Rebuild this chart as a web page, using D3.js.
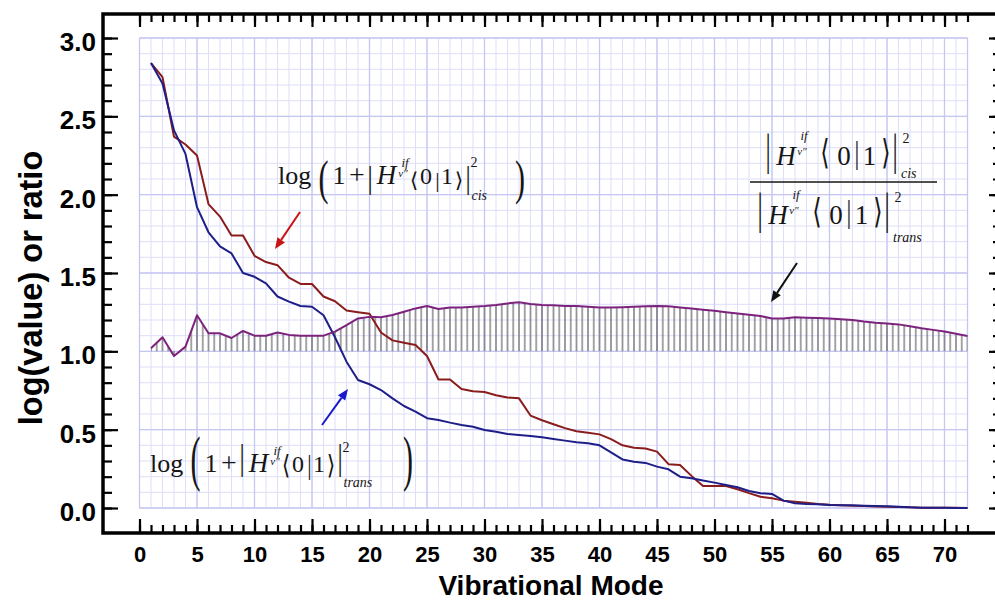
<!DOCTYPE html>
<html>
<head>
<meta charset="utf-8">
<script src="https://cdn.jsdelivr.net/npm/d3@7"></script>
<style>
  body { margin: 0; background: #fff; }
</style>
</head>
<body>
<div id="chart"></div>
<script>
// vibrational modes 1..72
const modes = d3.range(1, 73);

// log(1 + |H<0|1>|^2) for cis
const cisLog = [
  2.84, 2.75, 2.37, 2.32, 2.25, 1.94, 1.86, 1.74, 1.74, 1.61,
  1.57, 1.55, 1.47, 1.43, 1.43, 1.35, 1.32, 1.26, 1.25, 1.24,
  1.12, 1.07, 1.055, 1.04, 0.97, 0.82, 0.82, 0.76, 0.745, 0.74,
  0.72, 0.705, 0.70, 0.59, 0.56, 0.535, 0.51, 0.49, 0.48, 0.47,
  0.44, 0.40, 0.385, 0.38, 0.36, 0.28, 0.275, 0.205, 0.14, 0.14,
  0.14, 0.12, 0.095, 0.072, 0.062, 0.047, 0.04, 0.034, 0.026, 0.02,
  0.018, 0.015, 0.013, 0.01, 0.008, 0.006, 0.004, 0.002, 0.002, 0.001,
  0.001, 0.0
];

// log(1 + |H<0|1>|^2) for trans
const transLog = [
  2.84, 2.71, 2.41, 2.26, 1.92, 1.76, 1.67, 1.625, 1.50, 1.476,
  1.434, 1.35, 1.317, 1.289, 1.285, 1.23, 1.09, 0.934, 0.817, 0.79,
  0.753, 0.70, 0.651, 0.615, 0.573, 0.562, 0.545, 0.53, 0.519, 0.498,
  0.487, 0.472, 0.466, 0.46, 0.451, 0.441, 0.43, 0.419, 0.413, 0.40,
  0.355, 0.31, 0.295, 0.288, 0.264, 0.247, 0.20, 0.19, 0.175, 0.162,
  0.147, 0.132, 0.109, 0.094, 0.09, 0.047, 0.03, 0.026, 0.024, 0.019,
  0.017, 0.017, 0.015, 0.013, 0.011, 0.008, 0.004, 0.002, 0.002, 0.001,
  0.0, 0.0
];

// ratio cis / trans
const ratio = [
  1.02, 1.09, 0.97, 1.03, 1.23, 1.115, 1.115, 1.085, 1.13, 1.10,
  1.10, 1.12, 1.105, 1.10, 1.10, 1.10, 1.126, 1.168, 1.21, 1.22,
  1.217, 1.232, 1.253, 1.274, 1.289, 1.27, 1.28, 1.28, 1.285, 1.289,
  1.296, 1.306, 1.313, 1.302, 1.296, 1.294, 1.289, 1.289, 1.285, 1.28,
  1.28, 1.282, 1.285, 1.287, 1.289, 1.287, 1.28, 1.274, 1.266, 1.259,
  1.25, 1.242, 1.233, 1.225, 1.21, 1.21, 1.217, 1.215, 1.212, 1.21,
  1.205, 1.20, 1.19, 1.183, 1.178, 1.172, 1.16, 1.147, 1.137, 1.126,
  1.112, 1.098
];

const xTickValues = d3.range(0, 75, 5);
const xMinorValues = d3.range(0, 73, 1);
const yTickValues = [0, 0.5, 1, 1.5, 2, 2.5, 3];
const yMinorValues = d3.range(0, 31).map(d => d / 10);

const width = 995, height = 600;
const frame = {left: 103, top: 14, right: 997, bottom: 533};

const x = d3.scaleLinear().domain([0, 72]).range([139.5, 967.5]);
const y = d3.scaleLinear().domain([0, 3]).range([508, 38]);

const sans = "'Liberation Sans', Arial, Helvetica, sans-serif";
const serif = "'Liberation Serif', 'Times New Roman', 'DejaVu Serif', serif";
const ink = "#161616";

const svg = d3.select("#chart").append("svg")
  .attr("width", width)
  .attr("height", height)
  .attr("viewBox", [0, 0, width, height]);

const rows = modes.map((m, i) => ({m, cis: cisLog[i], trans: transLog[i], r: ratio[i]}));

// hatch pattern for the ratio area
const step = x(0.5) - x(0);
svg.append("defs").append("pattern")
    .attr("id", "hatch")
    .attr("patternUnits", "userSpaceOnUse")
    .attr("x", x(0) - step / 2)
    .attr("y", 0)
    .attr("width", step)
    .attr("height", 10)
  .append("line")
    .attr("x1", step / 2).attr("x2", step / 2)
    .attr("y1", 0).attr("y2", 10)
    .attr("stroke", "#4a4a4a")
    .attr("stroke-width", 1);

// grid
const grid = svg.append("g");
grid.selectAll(".vminor").data(xMinorValues).join("line")
    .attr("x1", d => x(d)).attr("x2", d => x(d))
    .attr("y1", y(0)).attr("y2", y(3))
    .attr("stroke", "#dedef9").attr("stroke-width", 1);
grid.selectAll(".hminor").data(yMinorValues).join("line")
    .attr("x1", x(0)).attr("x2", x(72))
    .attr("y1", d => y(d)).attr("y2", d => y(d))
    .attr("stroke", "#dedef9").attr("stroke-width", 1);
grid.selectAll(".vmajor").data(xTickValues.concat([72])).join("line")
    .attr("x1", d => x(d)).attr("x2", d => x(d))
    .attr("y1", y(0)).attr("y2", y(3))
    .attr("stroke", "#c6c6f3").attr("stroke-width", 1.3);
grid.selectAll(".hmajor").data(yTickValues).join("line")
    .attr("x1", x(0)).attr("x2", x(72))
    .attr("y1", d => y(d)).attr("y2", d => y(d))
    .attr("stroke", "#c6c6f3").attr("stroke-width", 1.3);

// hatched area between ratio and 1.0
svg.append("path")
    .datum(rows)
    .attr("fill", "url(#hatch)")
    .attr("d", d3.area().x(d => x(d.m)).y0(y(1)).y1(d => y(d.r)));

const line = key => d3.line().x(d => x(d.m)).y(d => y(d[key]));

svg.append("path").datum(rows)
    .attr("fill", "none").attr("stroke", "#8a1c1c").attr("stroke-width", 2)
    .attr("stroke-linejoin", "round").attr("d", line("cis"));
svg.append("path").datum(rows)
    .attr("fill", "none").attr("stroke", "#1e1e88").attr("stroke-width", 2)
    .attr("stroke-linejoin", "round").attr("d", line("trans"));
svg.append("path").datum(rows)
    .attr("fill", "none").attr("stroke", "#7d237d").attr("stroke-width", 2)
    .attr("stroke-linejoin", "round").attr("d", line("r"));

// frame
svg.append("rect")
    .attr("x", frame.left).attr("y", frame.top)
    .attr("width", frame.right - frame.left).attr("height", frame.bottom - frame.top)
    .attr("fill", "none").attr("stroke", "#000").attr("stroke-width", 3.5);

function styleAxis(g) {
  g.select(".domain").remove();
  g.selectAll(".tick line").attr("stroke", "#000").attr("stroke-width", 2.2);
}

// bottom axis (ticks point up)
svg.append("g").attr("transform", `translate(0,${frame.bottom})`)
    .call(d3.axisBottom(x).tickValues(xMinorValues).tickSizeInner(-8).tickSizeOuter(0).tickFormat(""))
    .call(styleAxis);
svg.append("g").attr("transform", `translate(0,${frame.bottom})`)
    .call(d3.axisBottom(x).tickValues(xTickValues).tickSizeInner(-14).tickSizeOuter(0).tickPadding(13).tickFormat(d3.format("d")))
    .call(styleAxis)
    .call(g => g.selectAll("text").attr("font-family", sans).attr("font-weight", "bold")
      .attr("font-size", 22).attr("fill", "#000"));

// top axis (ticks point down)
svg.append("g").attr("transform", `translate(0,${frame.top})`)
    .call(d3.axisTop(x).tickValues(xMinorValues).tickSizeInner(-8).tickSizeOuter(0).tickFormat(""))
    .call(styleAxis);
svg.append("g").attr("transform", `translate(0,${frame.top})`)
    .call(d3.axisTop(x).tickValues(xTickValues).tickSizeInner(-13).tickSizeOuter(0).tickFormat(""))
    .call(styleAxis);

// left axis (ticks point right)
svg.append("g").attr("transform", `translate(${frame.left},0)`)
    .call(d3.axisLeft(y).tickValues(yMinorValues).tickSizeInner(-9).tickSizeOuter(0).tickFormat(""))
    .call(styleAxis);
svg.append("g").attr("transform", `translate(${frame.left},0)`)
    .call(d3.axisLeft(y).tickValues(yTickValues).tickSizeInner(-15).tickSizeOuter(0).tickPadding(7).tickFormat(d3.format(".1f")))
    .call(styleAxis)
    .call(g => g.selectAll("text").attr("font-family", sans).attr("font-weight", "bold")
      .attr("font-size", 26).attr("fill", "#000").attr("dy", "0.48em"));

// right axis (ticks point left)
svg.append("g").attr("transform", `translate(${frame.right},0)`)
    .call(d3.axisRight(y).tickValues(yMinorValues).tickSizeInner(-4).tickSizeOuter(0).tickFormat(""))
    .call(styleAxis);
svg.append("g").attr("transform", `translate(${frame.right},0)`)
    .call(d3.axisRight(y).tickValues(yTickValues).tickSizeInner(-8).tickSizeOuter(0).tickFormat(""))
    .call(styleAxis);

// axis titles
svg.append("text")
    .attr("x", 551).attr("y", 595)
    .attr("text-anchor", "middle")
    .attr("font-family", sans).attr("font-weight", "bold").attr("font-size", 28)
    .text("Vibrational Mode");
svg.append("text")
    .attr("transform", "translate(42,288) rotate(-90)")
    .attr("text-anchor", "middle")
    .attr("font-family", sans).attr("font-weight", "bold").attr("font-size", 32.5)
    .text("log(value) or ratio");

// ---- formula annotations ----
function word(s, px, py, fs, anchor, italic) {
  svg.append("text")
      .attr("x", px).attr("y", py)
      .attr("font-family", serif).attr("font-size", fs)
      .attr("font-style", italic ? "italic" : "normal")
      .attr("text-anchor", anchor || "start")
      .attr("fill", ink)
      .text(s);
}

// ink extents (above, below baseline) in em, used to stretch delimiters
const inkBox = {"(": [0.694, 0.181], ")": [0.694, 0.181], "|": [0.78, 0.22], "\u27E8": [0.8, 0.22], "\u27E9": [0.8, 0.22]};
function delim(ch, cx, top, bottom, fs) {
  const [a, d] = inkBox[ch];
  const sy = (bottom - top) / ((a + d) * fs);
  const by = bottom - d * fs * sy;
  svg.append("text")
      .attr("transform", `translate(${cx},${by}) scale(1,${sy})`)
      .attr("font-family", serif).attr("font-size", fs)
      .attr("text-anchor", "middle")
      .attr("fill", ink)
      .text(ch);
}

function logFormula(x0, b, sub, closeX, v) {
  word("log", x0, b, 26);
  delim("(", x0 + 45.5, b + v.paren[0], b + v.paren[1], 30);
  word("1", x0 + 61, b, 26, "middle");
  word("+", x0 + 79, b, 28, "middle");
  delim("|", x0 + 92, b + v.bar[0], b + v.bar[1], 26);
  word("H", x0 + 108.5, b, 27, "middle", true);
  word("if", x0 + 127, b - 17, 13, "middle", true);
  word("v\"", x0 + 125, b - 7, 11, "middle", true);
  delim("\u27E8", x0 + 136, b + v.ang[0], b + v.ang[1], 22);
  word("0", x0 + 148, b, 24, "middle");
  delim("|", x0 + 159.5, b + v.ang[0], b + v.ang[1], 22);
  word("1", x0 + 169, b, 24, "middle");
  delim("\u27E9", x0 + 181, b + v.ang[0], b + v.ang[1], 22);
  delim("|", x0 + 190, b + v.bar[0], b + v.bar[1], 26);
  word("2", x0 + 196, b + v.sup, 14, "middle");
  word(sub, x0 + 193.5, b + v.sub, 14, "start", true);
  delim(")", closeX, b + v.paren[0], b + v.paren[1], 30);
}

logFormula(278, 184, "cis", 520,
  {paren: [-24, 19], bar: [-20, 11], ang: [-13, 8], sup: -17, sub: 16});
logFormula(150, 472, "trans", 408,
  {paren: [-36, 18], bar: [-31, 5], ang: [-19, 8], sup: -20, sub: 15});

function ratioTerm(x0, b, sub, subDy) {
  delim("|", x0, b - 35, b + 10, 26);
  word("H", x0 + 18, b, 27, "middle", true);
  word("if", x0 + 36, b - 25, 13, "middle", true);
  word("v\"", x0 + 34, b - 10, 11, "middle", true);
  delim("\u27E8", x0 + 57, b - 28, b + 7, 24);
  word("0", x0 + 76, b, 27, "middle");
  delim("|", x0 + 89, b - 27, b + 5, 24);
  word("1", x0 + 101.5, b, 27, "middle");
  delim("\u27E9", x0 + 118, b - 28, b + 7, 24);
  delim("|", x0 + 127, b - 35, b + 10, 26);
  word("2", x0 + 138, b - 22, 14, "middle");
  word(sub, x0 + 133, b + subDy, 14, "start", true);
}

ratioTerm(768, 165, "cis", 13);
svg.append("line")
    .attr("x1", 750).attr("x2", 937).attr("y1", 182).attr("y2", 182)
    .attr("stroke", ink).attr("stroke-width", 1.4);
ratioTerm(760, 224, "trans", 18);

// arrows
function arrow(x1, y1, x2, y2, color) {
  const a = Math.atan2(y2 - y1, x2 - x1);
  const len = 11, half = 4.5;
  const bx = x2 - len * Math.cos(a), by = y2 - len * Math.sin(a);
  svg.append("line")
      .attr("x1", x1).attr("y1", y1).attr("x2", bx).attr("y2", by)
      .attr("stroke", color).attr("stroke-width", 2);
  svg.append("path")
      .attr("d", `M${x2},${y2}L${bx + half * Math.sin(a)},${by - half * Math.cos(a)}L${bx - half * Math.sin(a)},${by + half * Math.cos(a)}Z`)
      .attr("fill", color);
}

arrow(300, 212, 275, 249, "#c81414");
arrow(322, 425, 348, 389, "#1a1acc");
arrow(797, 263, 771, 302, "#111");
</script>
</body>
</html>
